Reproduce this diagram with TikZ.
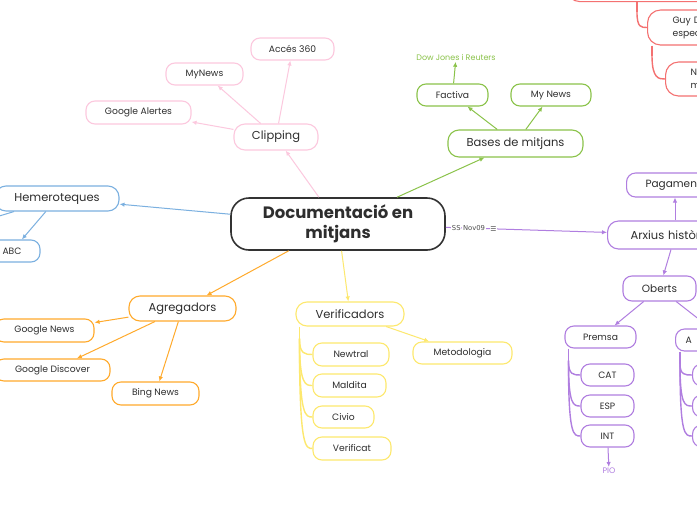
\documentclass[tikz,border=0pt]{standalone}
\usepackage{fontspec}
\setmainfont{Poppins}
\newfontfamily\symfont{DejaVu Sans}
\usetikzlibrary{arrows.meta}
\definecolor{cblue}{HTML}{7BB0E0}
\definecolor{cpink}{HTML}{FCC8DE}
\definecolor{cgreen}{HTML}{8BC34A}
\definecolor{cpurple}{HTML}{B07EE0}
\definecolor{cyellow}{HTML}{FDE86E}
\definecolor{corange}{HTML}{FFAA2C}
\definecolor{cred}{HTML}{F47171}
\definecolor{cdark}{HTML}{333333}
\definecolor{ctext}{HTML}{2E2E2E}
\begin{document}
\begin{tikzpicture}[x=1pt,y=-1pt,
  box/.style={draw, line width=1.1pt, rounded corners=9pt, fill=white, inner sep=0pt, text=ctext, font=\fontsize{9.2}{11}\selectfont},
  main/.style={box, font=\fontsize{11.5}{13}\selectfont, rounded corners=11pt},
  arr/.style={-{Latex[length=5pt,width=4.5pt]}, line width=1pt},
  tree/.style={line width=1.4pt},
  lbl/.style={fill=white, inner sep=0.8pt, text=black!70, font=\symfont\fontsize{6.8}{8}\selectfont},
]
\useasboundingbox (0,0) rectangle (697,520);
\clip (0,0) rectangle (697,520);
\fill[white] (0,0) rectangle (697,520);

% central
\node[box, draw=cdark, line width=1.6pt, rounded corners=18pt, minimum width=214, minimum height=52, align=center, font=\bfseries\fontsize{16.5}{20}\selectfont] (c) at (338,224) {Documentació en\\mitjans};

% blue
\node[main, draw=cblue, minimum width=124, minimum height=25] (hem) at (57,198.5) {Hemeroteques};
\node[box, draw=cblue, minimum width=56, minimum height=22] (abc) at (12,251) {ABC};
\coordinate (hemoff) at (-60,234);
\draw[arr, cblue] (c) -- (hem);
\draw[arr, cblue] (hem) -- (abc);
\draw[arr, cblue] (hem) -- (hemoff);

% pink
\node[main, draw=cpink, minimum width=84, minimum height=26] (clip) at (276,137) {Clipping};
\node[box, draw=cpink, minimum width=105, minimum height=23] (ga) at (138.5,112.5) {Google Alertes};
\node[box, draw=cpink, minimum width=77, minimum height=22] (mn) at (204.5,74) {MyNews};
\node[box, draw=cpink, minimum width=83, minimum height=22] (a360) at (292.5,49) {Accés 360};
\draw[arr, cpink] (c) -- (clip);
\draw[arr, cpink] (clip) -- (ga);
\draw[arr, cpink] (clip) -- (mn);
\draw[arr, cpink] (clip) -- (a360);

% green
\node[main, draw=cgreen, minimum width=135, minimum height=27] (bases) at (515.5,143.5) {Bases de mitjans};
\node[box, draw=cgreen, minimum width=71, minimum height=22] (fact) at (452.5,95) {Factiva};
\node[box, draw=cgreen, minimum width=80, minimum height=22] (mynews) at (551,95) {My News};
\node[text=cgreen, font=\fontsize{8}{9}\selectfont, inner sep=1pt] (dj) at (456,57.5) {Dow Jones i Reuters};
\draw[arr, cgreen] (c) -- (bases);
\draw[arr, cgreen] (bases) -- (fact);
\draw[arr, cgreen] (bases) -- (mynews);
\draw[arr, cgreen] (fact) -- (dj);

% yellow
\node[main, draw=cyellow, minimum width=108, minimum height=24] (ver) at (350,314) {Verificadors};
\node[box, draw=cyellow, minimum width=99, minimum height=22] (met) at (462.5,353) {Metodologia};
\node[box, draw=cyellow, minimum width=76, minimum height=23] (newt) at (351,354.5) {Newtral};
\node[box, draw=cyellow, minimum width=73, minimum height=23] (mald) at (349.5,385.5) {Maldita};
\node[box, draw=cyellow, minimum width=61, minimum height=22] (civ) at (343.5,417) {Civio};
\node[box, draw=cyellow, minimum width=78, minimum height=23] (vcat) at (352,448.5) {Verificat};
\draw[arr, cyellow] (c) -- (ver);
\draw[arr, cyellow] (ver) -- (met);
\draw[tree, cyellow] ([xshift=4pt]ver.south west) -- ++(0,12) coordinate (vs);
\foreach \k in {newt,mald,civ,vcat}
  \draw[tree, cyellow] (vs) .. controls (vs |- \k.west) and ([xshift=-7pt]\k.west) .. (\k.west);

% orange
\node[main, draw=corange, minimum width=107, minimum height=25] (agr) at (182.5,308.5) {Agregadors};
\node[box, draw=corange, minimum width=99, minimum height=23] (gn) at (44.5,330.5) {Google News};
\node[box, draw=corange, minimum width=115, minimum height=22] (gd) at (52.5,370) {Google Discover};
\node[box, draw=corange, minimum width=87, minimum height=23] (bn) at (155.5,393.5) {Bing News};
\draw[arr, corange] (c) -- (agr);
\draw[arr, corange] (agr) -- (gn);
\draw[arr, corange] (agr) -- (gd);
\draw[arr, corange] (agr) -- (bn);

% purple
\node[main, draw=cpurple, anchor=west, minimum height=28, inner xsep=23pt, text width=120pt, align=left] (arx) at (607,235) {Arxius històrics};
\node[box, draw=cpurple, anchor=west, minimum height=24, inner xsep=19pt, text width=80pt, align=left, font=\fontsize{10.5}{12}\selectfont] (pag) at (626,185) {Pagament};
\node[box, draw=cpurple, minimum width=73, minimum height=25, font=\fontsize{10.5}{12}\selectfont] (obe) at (659.5,288.5) {Oberts};
\node[box, draw=cpurple, minimum width=71, minimum height=22] (prem) at (600.5,337) {Premsa};
\node[box, draw=cpurple, anchor=west, minimum height=22, inner xsep=10pt, text width=80pt, align=left] (abox) at (675,340) {A};
\node[box, draw=cpurple, minimum width=53, minimum height=22] (cat) at (607.5,375) {CAT};
\node[box, draw=cpurple, minimum width=53, minimum height=22] (esp) at (607.5,406) {ESP};
\node[box, draw=cpurple, minimum width=53, minimum height=22] (int) at (607.5,436) {INT};
\node[box, draw=cpurple, anchor=west, minimum width=60, minimum height=22] (a1) at (692,375) {};
\node[box, draw=cpurple, anchor=west, minimum width=60, minimum height=22] (a2) at (692,406) {};
\node[box, draw=cpurple, anchor=west, minimum width=60, minimum height=22] (a3) at (692,436) {};
\node[text=cpurple, font=\fontsize{8}{9}\selectfont, inner sep=1pt] (pio) at (609,471) {PIO};

\draw[arr, cpurple] (c) -- node[lbl, pos=0.065] {SS} node[lbl, pos=0.175] {Nov09} node[lbl, pos=0.295] {☰} (arx);
\draw[arr, cpurple] ([xshift=68pt]arx.north west) -- ([xshift=68pt]arx.north west |- pag.south);
\draw[arr, cpurple] ([xshift=64pt]arx.south west) -- (obe);
\draw[arr, cpurple] (obe) -- (prem);
\draw[arr, cpurple] (obe) -- (abox);
\draw[arr, cpurple] (int) -- (pio);
\draw[tree, cpurple] ([xshift=4pt]prem.south west) -- ++(0,12) coordinate (ps);
\foreach \k in {cat,esp,int}
  \draw[tree, cpurple] (ps) .. controls (ps |- \k.west) and ([xshift=-7pt]\k.west) .. (\k.west);
\draw[tree, cpurple] ([xshift=5pt]abox.south west) -- ++(0,12) coordinate (as);
\foreach \k in {a1,a2,a3}
  \draw[tree, cpurple] (as) .. controls (as |- \k.west) and ([xshift=-7pt]\k.west) .. (\k.west);

% red
\node[box, draw=cred, anchor=north west, minimum width=200, minimum height=40, rounded corners=12pt] (rtop) at (567,-39) {};
\node[box, draw=cred, anchor=west, minimum height=35, inner xsep=25pt, text width=80pt, align=left, rounded corners=13pt, font=\fontsize{9.2}{13}\selectfont] (guy) at (647,27.5) {Guy D\\espec};
\node[box, draw=cred, anchor=west, minimum height=34, inner xsep=25pt, text width=80pt, align=left, rounded corners=13pt, font=\fontsize{9.2}{13}\selectfont] (nbox) at (665,79) {N\\m};
\draw[tree, cred] ([xshift=70pt]rtop.south west) -- ++(0,10) coordinate (rs);
\draw[tree, cred] (rs) .. controls (rs |- guy.west) and ([xshift=-6pt]guy.west) .. (guy.west);
\draw[tree, cred] ([xshift=5pt]guy.south west) -- ++(0,10) coordinate (gs);
\draw[tree, cred] (gs) .. controls (gs |- nbox.west) and ([xshift=-6pt]nbox.west) .. (nbox.west);
\end{tikzpicture}
\end{document}
